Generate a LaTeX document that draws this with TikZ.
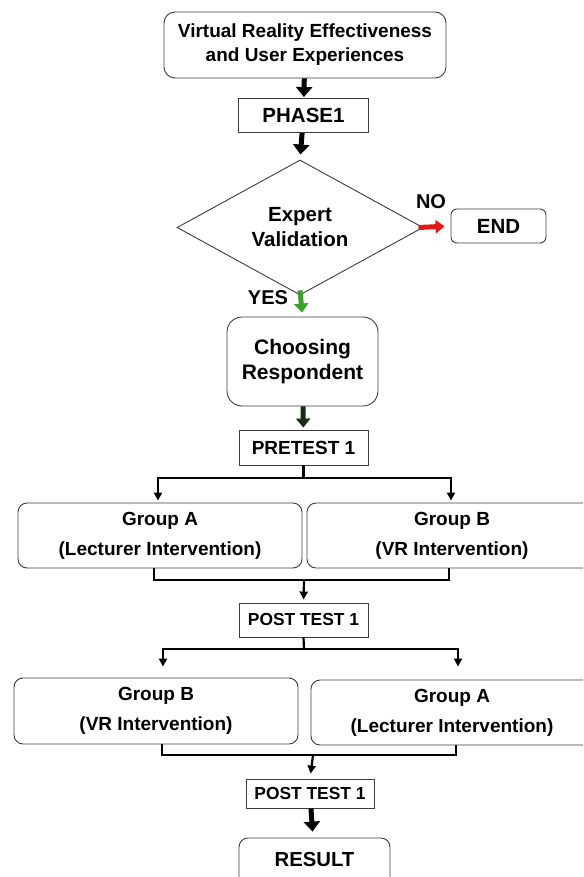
\documentclass[tikz,border=0pt]{standalone}
\usepackage{fontspec}
\setmainfont{Liberation Sans}
\usetikzlibrary{arrows.meta,shapes.geometric}
\definecolor{boxline}{RGB}{60,60,60}
\definecolor{arrred}{RGB}{230,25,20}
\definecolor{arrgreen}{RGB}{60,160,45}
\definecolor{arrdark}{RGB}{20,45,20}
\newcommand\fsz[2]{\fontsize{#1}{#2}\selectfont\bfseries}
\begin{document}
\begin{tikzpicture}[x=1pt,y=-1pt,
  sbox/.style={draw=boxline, line width=0.9pt, fill=white, align=center, inner sep=0pt},
  rbox/.style={sbox, rounded corners=9pt},
  dia/.style={sbox, diamond, aspect=1.8},
  fat/.style={line width=5pt, -{Triangle[width=16pt,length=10pt]}},
  thinarr/.style={line width=2.2pt, -{Triangle[width=8pt,length=8pt]}},
  conn/.style={line width=2.2pt}]
\clip (0,0) rectangle (583,877);
\fill[white] (0,0) rectangle (583,877);

% nodes
\node[rbox, rounded corners=11pt, minimum width=282pt, minimum height=66pt, font=\fsz{19}{24}] (top) at (305,45) {Virtual Reality Effectiveness\\and User Experiences};
\node[sbox, minimum width=130pt, minimum height=34pt, font=\fsz{20.5}{24}] (phase) at (303.5,115.5) {PHASE1};
\node[dia, minimum width=246pt, minimum height=135pt, font=\fsz{20.5}{25}] (val) at (300,227.5) {Expert\\Validation};
\node[rbox, rounded corners=6pt, minimum width=95pt, minimum height=34pt, font=\fsz{20.5}{24}] (end) at (498.5,226) {END};
\node[font=\fsz{20}{24}] (no) at (431,202) {NO};
\node[font=\fsz{20}{24}] (yes) at (268,298) {YES};
\node[rbox, rounded corners=15pt, minimum width=151pt, minimum height=89pt, font=\fsz{21}{25}] (choose) at (302.5,361.5) {Choosing\\Respondent};
\node[sbox, minimum width=129pt, minimum height=35pt, font=\fsz{19}{24}] (pre) at (303.5,447.5) {PRETEST 1};
\node[rbox, minimum width=284pt, minimum height=65pt, font=\fsz{19}{30}] (ga1) at (160,535.5) {Group A\\(Lecturer Intervention)};
\node[rbox, minimum width=290pt, minimum height=65pt, font=\fsz{19}{30}] (gb1) at (452,535.5) {Group B\\(VR Intervention)};
\node[sbox, minimum width=129pt, minimum height=34pt, font=\fsz{17.4}{22}] (post1) at (303.5,620) {POST TEST 1};
\node[rbox, minimum width=284pt, minimum height=66pt, font=\fsz{19}{30}] (gb2) at (156,711) {Group B\\(VR Intervention)};
\node[rbox, minimum width=282pt, minimum height=65pt, font=\fsz{19}{30}] (ga2) at (452,712.5) {Group A\\(Lecturer Intervention)};
\node[sbox, minimum width=128pt, minimum height=29pt, font=\fsz{17.4}{22}] (post2) at (310,793.5) {POST TEST 1};
\node[rbox, minimum width=151pt, minimum height=48pt, font=\fsz{20.3}{24}] (res) at (314.5,862) {\raisebox{5pt}{RESULT}};

% connectors
\draw[fat, shorten >=1pt] (top) -- (phase);
\draw[fat, shorten >=5pt] (phase) -- (val.north);
\draw[line width=5pt, arrred, -{Triangle[width=13pt,length=9pt]}, shorten >=6pt] ([xshift=-5pt]val.east) -- (end.west);
\draw[line width=5pt, arrgreen, -{Triangle[width=14pt,length=9pt]}, shorten >=4pt] ([yshift=5pt]val.south) -- (choose.north);
\draw[line width=5pt, arrdark, -{Triangle[width=14pt,length=9pt]}, shorten >=2pt] (choose) -- (pre);

\coordinate (j1) at (303.5,478);
\draw[conn] (pre.south) -- (j1);
\draw[thinarr, shorten >=2pt] (j1) -| ([xshift=-2pt]ga1.north);
\draw[thinarr, shorten >=2pt] (j1) -| ([xshift=-1pt]gb1.north);

\coordinate (k1) at (304,580);
\draw[conn] ([xshift=-6pt]ga1.south) |- (k1) -| ([xshift=-3pt]gb1.south);
\draw[thinarr, shorten >=3pt] (k1) -- (post1.north);

\coordinate (j2) at (304,649);
\draw[conn] (post1.south) -- (j2);
\draw[thinarr, shorten >=11pt] (j2) -| ([xshift=7pt]gb2.north);
\draw[thinarr, shorten >=13pt] (j2) -| ([xshift=6pt]ga2.north);

\coordinate (k2) at (313,755);
\draw[conn] ([xshift=6pt]gb2.south) |- (k2) -| ([xshift=4pt]ga2.south);
\draw[thinarr, shorten >=5pt] (k2) -- (post2.north);
\draw[fat, shorten >=6pt] (post2) -- (res);
\end{tikzpicture}
\end{document}
